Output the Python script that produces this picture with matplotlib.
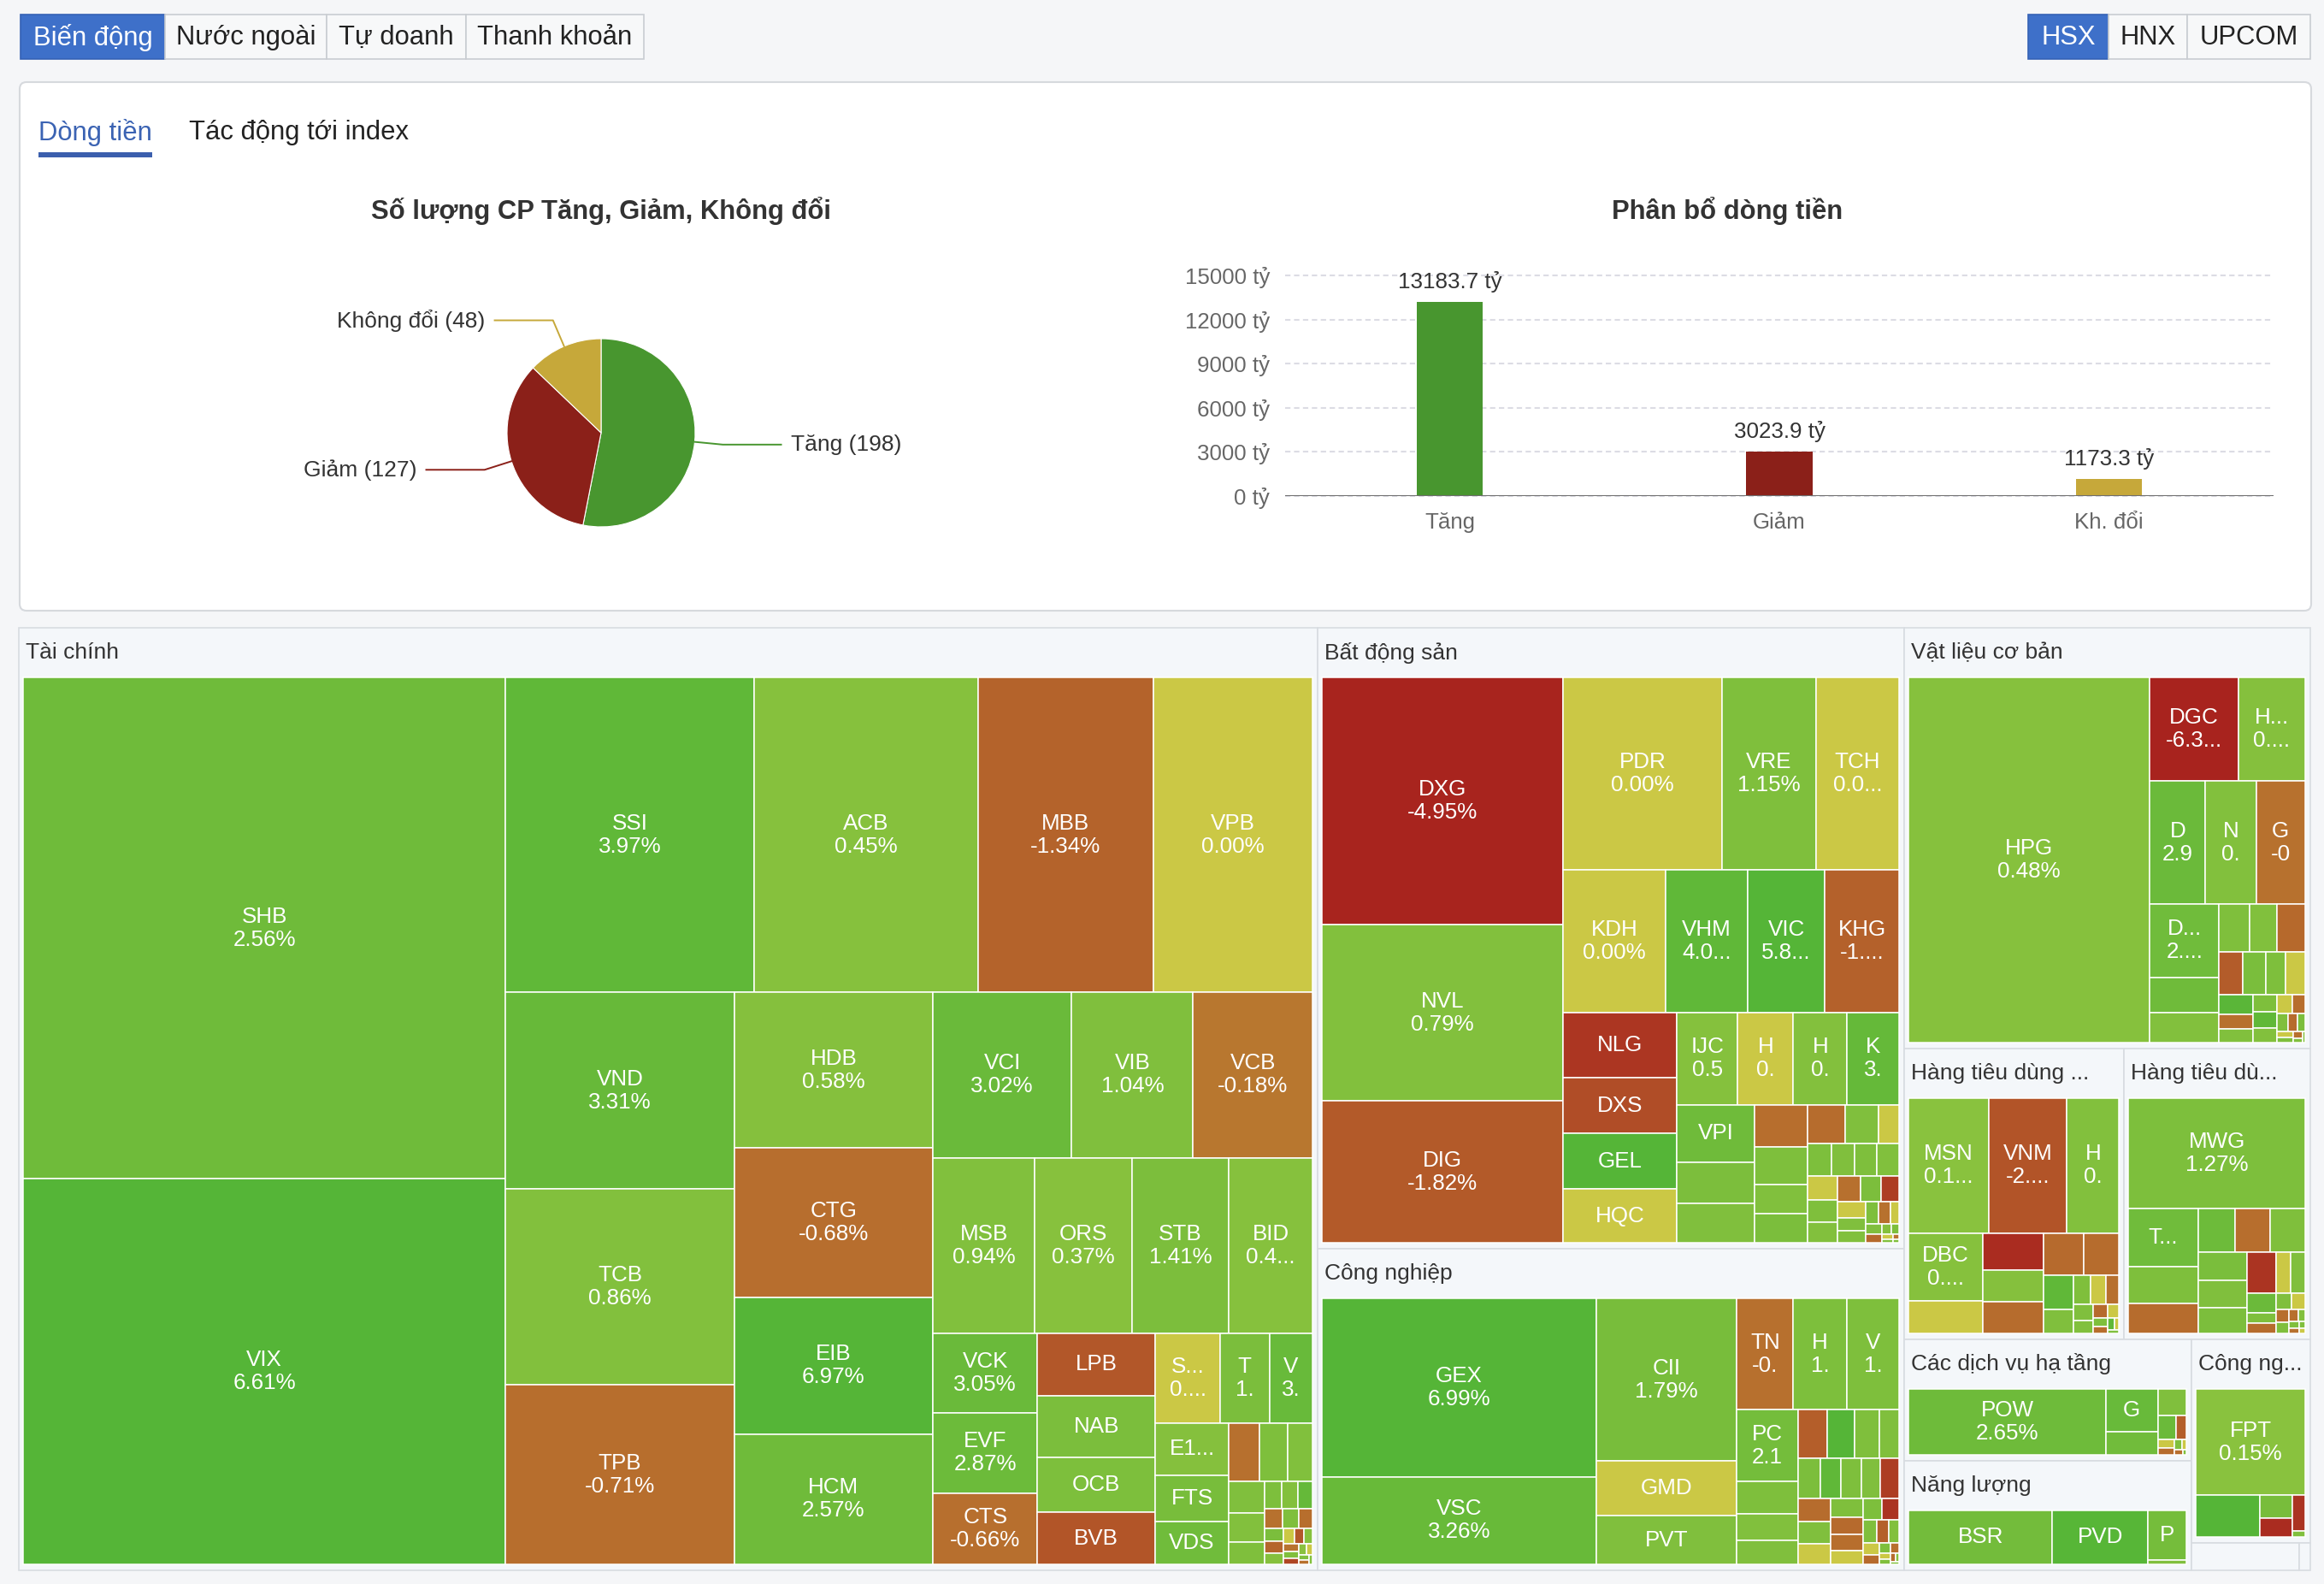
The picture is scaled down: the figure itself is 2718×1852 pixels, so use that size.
import numpy as np
import matplotlib
matplotlib.use("Agg")
import matplotlib.pyplot as plt
from matplotlib.patches import Rectangle, FancyBboxPatch
from matplotlib.colors import to_rgb

plt.rcParams['font.family'] = ['Liberation Sans', 'DejaVu Sans']

# ---------------- data ----------------
# pie: so luong co phieu
pie_labels = ["Tăng", "Giảm", "Không đổi"]
pie_counts = [198, 127, 48]
pie_colors = ["#48962f", "#8b2019", "#c6a83a"]

# bar: phan bo dong tien (ty dong)
bar_labels = ["Tăng", "Giảm", "Kh. đổi"]
bar_values = [13183.7, 3023.9, 1173.3]
bar_colors = ["#48962f", "#8b2019", "#c6a83a"]
y_ticks = [0, 3000, 6000, 9000, 12000, 15000]

# treemap tiles: (ticker shown, % text shown, trading value in ty, % change)
tai_chinh = [
    ("SHB", "2.56%", 2073, 2.56), ("VIX", "6.61%", 1594, 6.61),
    ("SSI", "3.97%", 670, 3.97), ("ACB", "0.45%", 606, 0.45),
    ("MBB", "-1.34%", 471, -1.34), ("VPB", "0.00%", 431, 0.0),
    ("VND", "3.31%", 386, 3.31), ("TCB", "0.86%", 384, 0.86),
    ("TPB", "-0.71%", 352, -0.71), ("HDB", "0.58%", 265, 0.58),
    ("CTG", "-0.68%", 255, -0.68), ("EIB", "6.97%", 232, 6.97),
    ("HCM", "2.57%", 222, 2.57), ("VCI", "3.02%", 197, 3.02),
    ("VIB", "1.04%", 172, 1.04), ("VCB", "-0.18%", 170, -0.18),
    ("MSB", "0.94%", 153, 0.94), ("ORS", "0.37%", 147, 0.37),
    ("STB", "1.41%", 144, 1.41), ("BID", "0.4...", 127, 0.45),
    ("VCK", "3.05%", 72, 3.05), ("EVF", "2.87%", 71.5, 2.87),
    ("CTS", "-0.66%", 64, -0.66), ("LPB", "", 63, -2.0),
    ("NAB", "", 62.5, 1.5), ("OCB", "", 55.5, 1.3), ("BVB", "", 52.5, -2.1),
    ("S...", "0....", 50, 0.0), ("T", "1.", 38, 1.5), ("V", "3.", 33.5, 3.2),
    ("E1...", "", 33, 0.6), ("FTS", "", 29, 1.8), ("VDS", "", 27, 2.5),
    ("", "", 15.5, -0.6), ("", "", 14, 1.2), ("", "", 12.6, 0.9),
    ("", "", 9.6, 1.0), ("", "", 9.1, 0.8), ("", "", 6.8, 1.1),
    ("", "", 4.0, 1.3), ("", "", 3.8, 0.7), ("", "", 3.4, 3.5),
    ("", "", 3.0, -0.5), ("", "", 2.7, 1.0), ("", "", 2.4, -0.7),
    ("", "", 2.1, 1.5), ("", "", 1.9, -1.2), ("", "", 1.7, 0.6),
    ("", "", 1.5, 0.0), ("", "", 1.3, -2.0), ("", "", 1.2, 0.5),
    ("", "", 1.0, -0.4), ("", "", 0.9, 1.0), ("", "", 0.8, -3.0),
    ("", "", 0.7, 0.2), ("", "", 0.6, 0.0), ("", "", 0.5, 1.0),
    ("", "", 0.4, -0.5), ("", "", 0.3, 0.8),
]
bat_dong_san = [
    ("DXG", "-4.95%", 531.6, -4.95), ("NVL", "0.79%", 379.7, 0.79),
    ("DIG", "-1.82%", 305.6, -1.82), ("PDR", "0.00%", 274.1, 0.0),
    ("VRE", "1.15%", 161.8, 1.15), ("TCH", "0.0...", 143.8, 0.0),
    ("KDH", "0.00%", 130.2, 0.0), ("VHM", "4.0...", 104.8, 4.0),
    ("VIC", "5.8...", 97.1, 5.8), ("KHG", "-1....", 94.9, -1.45),
    ("NLG", "", 66.6, -3.9), ("DXS", "", 56.9, -2.6), ("GEL", "", 56.1, 6.0),
    ("HQC", "", 55.2, 0.0), ("IJC", "0.5", 50.6, 0.55), ("H", "0.", 46.2, 0.0),
    ("H", "0.", 44.8, 0.7), ("K", "3.", 43.3, 3.5), ("VPI", "", 39.3, 2.6),
    ("", "", 28.6, 1.4), ("", "", 27.4, 1.0), ("", "", 19.6, -0.7),
    ("", "", 17.9, 1.2), ("", "", 13.9, 0.9), ("", "", 13.8, 1.5),
    ("", "", 12.9, -0.8), ("", "", 11.2, 1.0), ("", "", 7.1, 0.0),
    ("", "", 7.0, 1.3), ("", "", 6.8, 1.0), ("", "", 6.6, 1.2), ("", "", 6.6, 0.9),
    ("", "", 6.4, 0.0), ("", "", 6.0, 1.1), ("", "", 5.7, 0.8), ("", "", 5.3, -0.6),
    ("", "", 4.8, 1.4), ("", "", 4.3, -3.5), ("", "", 3.9, 0.0), ("", "", 3.4, 1.0),
    ("", "", 3.0, 0.9), ("", "", 2.6, 1.2), ("", "", 2.2, -0.5), ("", "", 1.8, 0.0),
    ("", "", 1.5, 1.0), ("", "", 1.2, -1.0), ("", "", 0.9, 0.6), ("", "", 0.7, 1.3),
    ("", "", 0.5, 0.0), ("", "", 0.4, 0.8), ("", "", 0.3, -0.4), ("", "", 0.2, 1.0),
]
cong_nghiep = [
    ("GEX", "6.99%", 480.3, 6.99), ("VSC", "3.26%", 235.6, 3.26),
    ("CII", "1.79%", 224.7, 1.79), ("GMD", "", 76.5, 0.0), ("PVT", "", 67.1, 1.0),
    ("TN", "-0.", 61.7, -0.6), ("H", "1.", 58.9, 1.3), ("V", "1.", 57.1, 1.2),
    ("PC", "2.1", 43.0, 2.1),
    ("", "", 19.9, 1.2), ("", "", 15.9, 0.9), ("", "", 14.3, 1.0),
    ("", "", 13.7, -1.6), ("", "", 12.9, 5.5), ("", "", 11.7, 1.1), ("", "", 9.6, 1.0),
    ("", "", 9.0, 1.4), ("", "", 8.2, 4.0), ("", "", 8.2, 1.2), ("", "", 7.5, 1.0),
    ("", "", 7.5, -3.5), ("", "", 7.4, -0.8), ("", "", 7.0, 1.0), ("", "", 6.6, 0.0),
    ("", "", 6.1, 1.1), ("", "", 5.6, -0.9), ("", "", 5.0, -0.7), ("", "", 4.5, 0.0),
    ("", "", 4.0, 1.3), ("", "", 3.6, -4.0), ("", "", 3.1, 1.0), ("", "", 2.7, -1.5),
    ("", "", 2.3, 0.8), ("", "", 1.9, 0.0), ("", "", 1.5, -0.9), ("", "", 1.2, 1.2),
    ("", "", 0.95, -0.6), ("", "", 0.73, 0.0), ("", "", 0.55, 1.0), ("", "", 0.4, -0.8),
    ("", "", 0.29, 0.5), ("", "", 0.22, 1.0),
]
vat_lieu = [
    ("HPG", "0.48%", 831.9, 0.48), ("DGC", "-6.3...", 87.0, -6.3),
    ("H...", "0....", 65.5, 0.6), ("D", "2.9", 64.4, 2.95), ("N", "0.", 58.6, 0.8),
    ("G", "-0", 56.6, -0.5), ("D...", "2....", 48.2, 2.5),
    ("", "", 23.0, 2.6), ("", "", 19.7, 0.8),
    ("", "", 13.9, 1.1), ("", "", 12.7, 0.9), ("", "", 12.7, -1.0),
    ("", "", 9.6, -1.7), ("", "", 9.3, 1.6), ("", "", 7.9, 1.2), ("", "", 7.9, 0.0),
    ("", "", 6.4, 4.5), ("", "", 4.5, -0.6), ("", "", 4.5, 0.9),
    ("", "", 3.9, 1.2), ("", "", 3.7, 4.0), ("", "", 3.3, 0.8), ("", "", 2.8, 0.0),
    ("", "", 2.3, -0.7), ("", "", 1.9, 1.0), ("", "", 1.5, -0.8), ("", "", 1.3, 1.5),
    ("", "", 1.0, 0.0), ("", "", 0.8, 1.2), ("", "", 0.6, -0.5), ("", "", 0.4, 1.0),
    ("", "", 0.3, 0.7),
]
tieu_dung_1 = [
    ("MSN", "0.1...", 111.6, 0.15), ("VNM", "-2....", 109.2, -2.2),
    ("H", "0.", 72.8, 0.8), ("DBC", "0....", 51.6, 0.5),
    ("", "", 24.8, 0.0), ("", "", 23.1, -4.5), ("", "", 20.0, 0.6),
    ("", "", 19.8, -0.8), ("", "", 17.7, -0.9), ("", "", 15.4, -0.8),
    ("", "", 10.8, 4.0), ("", "", 7.4, 1.0), ("", "", 5.0, 1.1), ("", "", 4.6, 0.0),
    ("", "", 4.0, -0.6), ("", "", 3.2, 1.0), ("", "", 2.6, 0.9), ("", "", 2.1, -0.9),
    ("", "", 1.7, 0.0), ("", "", 1.3, 1.2), ("", "", 1.0, -0.7), ("", "", 0.8, 4.0),
    ("", "", 0.5, 0.0), ("", "", 0.4, 1.0),
]
tieu_dung_2 = [
    ("MWG", "1.27%", 202.9, 1.27), ("T...", "", 41.9, 2.5),
    ("", "", 26.7, 1.2), ("", "", 21.8, -0.8),
    ("", "", 16.9, 2.8), ("", "", 16.4, -0.7), ("", "", 15.9, 1.1), ("", "", 14.4, 1.6),
    ("", "", 13.7, 1.0), ("", "", 13.2, 1.4), ("", "", 12.4, -4.0),
    ("", "", 6.2, 0.0), ("", "", 6.1, 1.0), ("", "", 5.9, 3.0),
    ("", "", 3.3, 1.2), ("", "", 3.0, -0.8), ("", "", 2.6, 1.0), ("", "", 2.2, 0.0),
    ("", "", 1.8, -0.7), ("", "", 1.5, 1.1), ("", "", 1.2, -0.6), ("", "", 0.9, 0.9),
    ("", "", 0.7, 1.0), ("", "", 0.5, -0.5), ("", "", 0.4, 1.0), ("", "", 0.3, 0.0),
]
ha_tang = [
    ("POW", "2.65%", 198.4, 2.65), ("G", "", 33.9, 3.2), ("", "", 18.3, 2.4),
    ("", "", 11.9, 1.0), ("", "", 6.7, 3.0), ("", "", 3.7, -1.6), ("", "", 2.3, 0.0),
    ("", "", 1.7, -0.8), ("", "", 1.1, 1.0), ("", "", 0.8, 0.0), ("", "", 0.6, -0.7),
    ("", "", 0.3, 1.0),
]
nang_luong = [
    ("BSR", "", 130.0, 2.2), ("PVD", "", 87.1, 4.8), ("P", "", 32.2, 2.0),
    ("", "", 2.8, 1.0),
]
cong_nghe = [
    ("FPT", "0.15%", 139.1, 0.15), ("", "", 31.6, 6.0), ("", "", 8.9, 1.8),
    ("", "", 7.1, -4.5), ("", "", 5.4, -4.0), ("", "", 0.9, 1.0),
]
nho_1 = [("", "", 23.8, 0.5)]
nho_2 = [("", "", 2.5, 0.5)]

sector_names = ["Tài chính", "Bất động sản", "Công nghiệp", "Vật liệu cơ bản",
                "Hàng tiêu dùng ...", "Hàng tiêu dù...", "Các dịch vụ hạ tầng",
                "Năng lượng", "Công ng...", "", ""]
sector_tiles = [tai_chinh, bat_dong_san, cong_nghiep, vat_lieu, tieu_dung_1,
                tieu_dung_2, ha_tang, nang_luong, cong_nghe, nho_1, nho_2]

# ---------------- helpers ----------------
PHI = (1 + 5 ** 0.5) / 2


def squarify(values, x0, y0, x1, y1):
    # port of d3.treemapSquarify (golden ratio), y grows downward
    out = []
    total = float(sum(values))
    i0, n = 0, len(values)
    while i0 < n:
        dx, dy = x1 - x0, y1 - y0
        s = values[i0]
        i1 = i0 + 1
        vmin = vmax = s
        alpha = max(dy / dx, dx / dy) / (total * PHI)
        beta = s * s * alpha
        best = max(vmax / beta, beta / vmin)
        while i1 < n:
            v = values[i1]
            s2 = s + v
            mn, mx = min(vmin, v), max(vmax, v)
            beta = s2 * s2 * alpha
            r = max(mx / beta, beta / mn)
            if r > best:
                break
            s, vmin, vmax, best = s2, mn, mx, r
            i1 += 1
        row = values[i0:i1]
        if dx < dy:
            yb = y0 + dy * s / total
            xx = x0
            for v in row:
                w = dx * v / s
                out.append((xx, y0, xx + w, yb))
                xx += w
            y0 = yb
        else:
            xb = x0 + dx * s / total
            yy = y0
            for v in row:
                h = dy * v / s
                out.append((x0, yy, xb, yy + h))
                yy += h
            x0 = xb
        total -= s
        i0 = i1
    return out


POS_LO, POS_HI = np.array(to_rgb('#8bc23e')), np.array(to_rgb('#55b537'))
NEG_LO, NEG_HI = np.array(to_rgb('#b97a30')), np.array(to_rgb('#a8231e'))
FLAT = '#cbc845'


def tile_color(chg):
    if chg == 0:
        return FLAT
    t = min(abs(chg) / 5.0, 1.0)
    lo, hi = (POS_LO, POS_HI) if chg > 0 else (NEG_LO, NEG_HI)
    return tuple(lo + (hi - lo) * t)


# ---------------- figure ----------------
W, H = 2718, 1852
fig = plt.figure(figsize=(W / 100, H / 100), dpi=100)
fig.patch.set_facecolor('#f5f6f8')
bg = fig.add_axes([0, 0, 1, 1])
bg.set_xlim(0, W)
bg.set_ylim(H, 0)
bg.axis('off')


def button(x0, x1, text, active):
    fc = '#3e70c9' if active else '#f7f8f9'
    ec = '#3562b5' if active else '#c9cdd2'
    bg.add_patch(Rectangle((x0, 17), x1 - x0, 52, fc=fc, ec=ec, lw=1.2))
    bg.text((x0 + x1) / 2, 44, text, ha='center', va='center', fontsize=22.3,
            color='white' if active else '#222222')


for x0, x1, t, a in [(24, 193, "Biến động", True), (193, 382, "Nước ngoài", False),
                     (382, 545, "Tự doanh", False), (545, 753, "Thanh khoản", False),
                     (2372, 2466, "HSX", True), (2466, 2558, "HNX", False),
                     (2558, 2702, "UPCOM", False)]:
    button(x0, x1, t, a)

bg.add_patch(FancyBboxPatch((23, 96), 2680, 618, boxstyle="round,pad=0,rounding_size=8",
                            fc='white', ec='#d6d9dd', lw=1.5))
bg.text(45, 155, "Dòng tiền", ha='left', va='center', fontsize=22.3, color='#3b63b3')
bg.add_patch(Rectangle((45, 178), 133, 6, fc='#3b5fad', ec='none'))
bg.text(221, 155, "Tác động tới index", ha='left', va='center', fontsize=22.3, color='#222222')

bg.text(703, 247, "Số lượng CP Tăng, Giảm, Không đổi", ha='center', va='center',
        fontsize=22.3, fontweight='bold', color='#333333')
bg.text(2020, 247, "Phân bổ dòng tiền", ha='center', va='center',
        fontsize=22.3, fontweight='bold', color='#333333')

# pie
cx, cy, r = 703, 506, 110
pax = fig.add_axes([(cx - r) / W, 1 - (cy + r) / H, 2 * r / W, 2 * r / H])
wedges, _ = pax.pie(pie_counts, colors=pie_colors, startangle=90, counterclock=False,
                    wedgeprops=dict(edgecolor='white', linewidth=0.8))
pax.set_xlim(-1, 1)
pax.set_ylim(-1, 1)
pax.set_aspect('equal')
for w, lab, n, col in zip(wedges, pie_labels, pie_counts, pie_colors):
    ang = np.deg2rad((w.theta1 + w.theta2) / 2)
    ex, ey = np.cos(ang), np.sin(ang)
    kx, ky = 1.3 * ex, 1.3 * ey
    sgn = 1 if ex >= 0 else -1
    endx = kx + sgn * 0.62
    pax.plot([ex, kx, endx], [ey, ky, ky], color=col, lw=1.4, clip_on=False)
    pax.text(endx + sgn * 0.1, ky, f"{lab} ({n})", ha='left' if sgn > 0 else 'right',
             va='center', fontsize=19, color='#333333', clip_on=False)

# bars
bax = fig.add_axes([1503 / W, 1 - 580 / H, 1156 / W, 258 / H])
xs = np.arange(len(bar_values))
bars = bax.bar(xs, bar_values, width=0.2, color=bar_colors, zorder=3)
bax.set_xlim(-0.5, 2.5)
bax.set_ylim(0, 15000)
bax.set_yticks(y_ticks)
bax.set_yticklabels([f"{v} tỷ" for v in y_ticks])
bax.set_xticks(xs)
bax.set_xticklabels(bar_labels)
bax.grid(axis='y', linestyle=(0, (3, 2)), color='#dcdce4', lw=1.5, zorder=0)
for gl in bax.get_ygridlines():
    gl.set_clip_on(False)
bax.axhline(0, color='#6e6e6e', lw=2.2, zorder=4)
for sp in bax.spines.values():
    sp.set_visible(False)
bax.tick_params(length=0, labelsize=18.6, colors='#666666')
bax.tick_params(axis='y', pad=13)
bax.tick_params(axis='x', pad=14)
bax.set_facecolor('none')
for b, v in zip(bars, bar_values):
    bax.annotate(f"{v:.1f} tỷ", (b.get_x() + b.get_width() / 2, v), xytext=(0, 17),
                 textcoords='offset points', ha='center', va='center',
                 fontsize=18.7, color='#333333')

# treemap
sector_values = [sum(t[2] for t in tiles) for tiles in sector_tiles]
boxes = squarify(sector_values, 22, 734, 2702, 1836)
HEAD = 58
for name, tiles, (x0, y0, x1, y1) in zip(sector_names, sector_tiles, boxes):
    bg.add_patch(Rectangle((x0, y0), x1 - x0, y1 - y0, fc='#f4f7fa', ec='#d8dce1', lw=1.2))
    if y1 - y0 <= HEAD + 10:
        continue
    bg.text(x0 + 8, y0 + 29, name, ha='left', va='center', fontsize=19, color='#333333')
    rects = squarify([t[2] for t in tiles], x0 + 5, y0 + HEAD, x1 - 6, y1 - 7)
    for (tk, ptxt, val, chg), (a, b, c, d) in zip(tiles, rects):
        bg.add_patch(Rectangle((a, b), c - a, d - b, fc=tile_color(chg), ec='white', lw=1.1))
        mx, my = (a + c) / 2, (b + d) / 2
        if tk and ptxt:
            bg.text(mx, my - 13.5, tk, ha='center', va='center', fontsize=18.7, color='white')
            bg.text(mx, my + 13.5, ptxt, ha='center', va='center', fontsize=18.7, color='white')
        elif tk:
            bg.text(mx, my, tk, ha='center', va='center', fontsize=18.7, color='white')

fig.savefig("out.png", dpi=100, facecolor=fig.get_facecolor())
